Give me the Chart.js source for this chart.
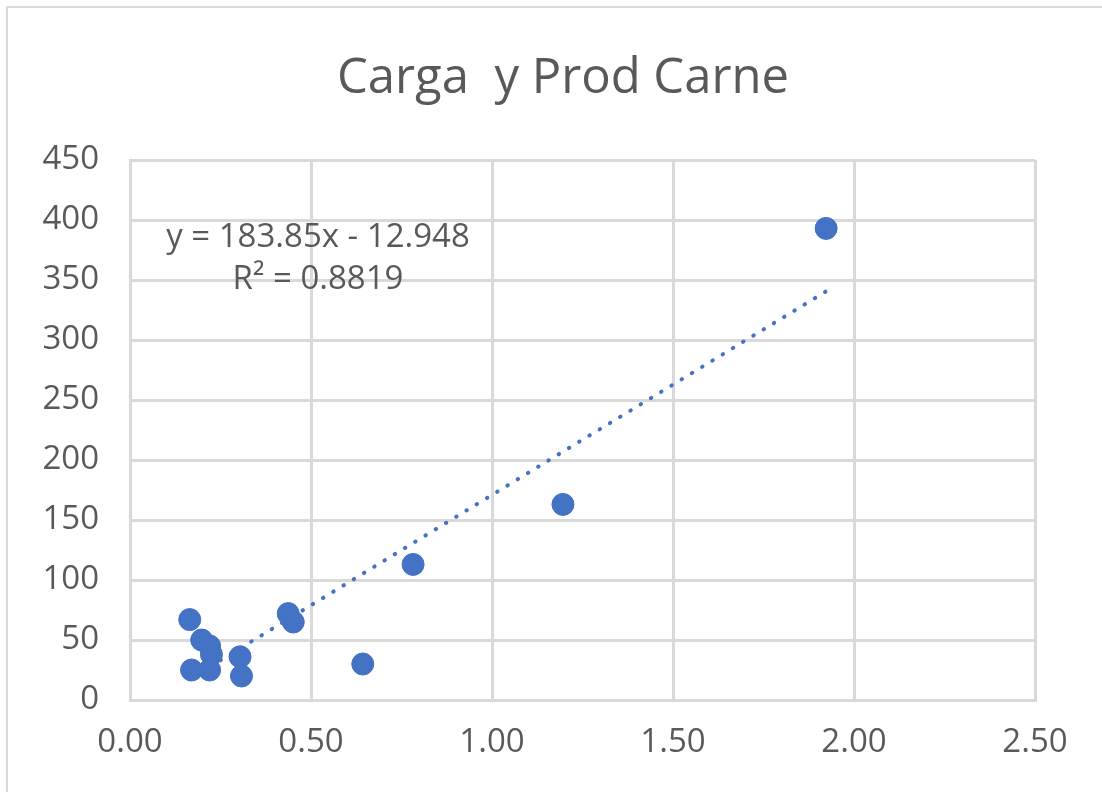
<!DOCTYPE html>
<html>
<head>
<meta charset="utf-8">
<script src="https://cdn.jsdelivr.net/npm/chart.js@4.4.1/dist/chart.umd.min.js"></script>
<style>
  html, body { margin: 0; padding: 0; background: #ffffff; }
  #wrap { position: relative; width: 1102px; height: 792px; }
</style>
</head>
<body>
<div id="wrap"><canvas id="c" width="1102" height="792"></canvas></div>
<script>
// ---- Data ----
const cargaX     = [0.165, 0.198, 0.220, 0.225, 0.170, 0.220, 0.304, 0.308, 0.437, 0.451, 0.643, 0.782, 1.196, 1.923];
const prodCarneY = [67,    50,    45,    38,    25,    25,    36,    20,    72,    65,    30,    113,   163,   393];
const trendSlope = 183.85;
const trendIntercept = -12.948;
const trendRange = [0.165, 1.923];
const xTicks = [0, 0.5, 1, 1.5, 2, 2.5];
const yTicks = [0, 50, 100, 150, 200, 250, 300, 350, 400, 450];
const chartTitle = 'Carga  y Prod Carne';
const eqLine1 = 'y = 183.85x - 12.948';
const eqLine2 = 'R² = 0.8819';

const scatterPoints = cargaX.map((x, i) => ({ x: x, y: prodCarneY[i] }));
const trendPoints = trendRange.map(x => ({ x: x, y: trendSlope * x + trendIntercept }));

const GRID = '#d9d9d9';
const TEXT = '#595959';
const BLUE = '#4472C4';
const FONT = "'Open Sans', 'Liberation Sans', sans-serif";

const decorPlugin = {
  id: 'decor',
  beforeDraw(chart) {
    const ctx = chart.ctx;
    ctx.save();
    ctx.fillStyle = '#ffffff';
    ctx.fillRect(0, 0, chart.width, chart.height);
    ctx.strokeStyle = GRID;
    ctx.lineWidth = 2;
    ctx.beginPath();
    ctx.moveTo(7, chart.height + 5);
    ctx.lineTo(7, 7);
    ctx.lineTo(chart.width + 5, 7);
    ctx.stroke();
    ctx.restore();
  },
  afterDraw(chart) {
    const ctx = chart.ctx;
    ctx.save();
    ctx.fillStyle = TEXT;
    ctx.textAlign = 'center';
    ctx.textBaseline = 'middle';
    ctx.font = "49px " + FONT;
    ctx.fillText(chartTitle, 563, 79);
    ctx.font = "33px " + FONT;
    ctx.fillText(eqLine1, 318, 238);
    ctx.fillText(eqLine2, 318, 280);
    ctx.restore();
  }
};

new Chart(document.getElementById('c'), {
  type: 'scatter',
  data: {
    datasets: [
      {
        type: 'line',
        label: 'trend',
        data: trendPoints,
        borderColor: BLUE,
        borderWidth: 4,
        borderDash: [0.5, 11.5],
        borderCapStyle: 'round',
        pointRadius: 0,
        fill: false,
        order: 0
      },
      {
        label: 'Prod Carne',
        data: scatterPoints,
        backgroundColor: BLUE,
        borderColor: BLUE,
        pointRadius: 11,
        pointHoverRadius: 11,
        order: 1
      }
    ]
  },
  options: {
    responsive: false,
    animation: false,
    devicePixelRatio: 1,
    layout: { padding: { left: 0, right: 67, top: 160, bottom: 0 } },
    plugins: {
      legend: { display: false },
      title: { display: false },
      tooltip: { enabled: false }
    },
    scales: {
      x: {
        type: 'linear',
        min: 0, max: 2.5,
        afterBuildTicks(axis) { axis.ticks = xTicks.map(v => ({ value: v })); },
        afterFit(axis) { axis.height = 92; },
        grid: { color: GRID, lineWidth: 3, drawTicks: false },
        border: { color: GRID, width: 3 },
        ticks: {
          color: TEXT,
          padding: 23,
          maxRotation: 0,
          font: { family: FONT, size: 33 },
          callback: v => Number(v).toFixed(2)
        }
      },
      y: {
        type: 'linear',
        min: 0, max: 450,
        afterBuildTicks(axis) { axis.ticks = yTicks.map(v => ({ value: v })); },
        afterFit(axis) { axis.width = 130; },
        grid: { color: GRID, lineWidth: 3, drawTicks: false },
        border: { color: GRID, width: 3 },
        ticks: {
          color: TEXT,
          padding: 31,
          font: { family: FONT, size: 33 },
          callback: v => String(v)
        }
      }
    }
  },
  plugins: [decorPlugin]
});
</script>
</body>
</html>
